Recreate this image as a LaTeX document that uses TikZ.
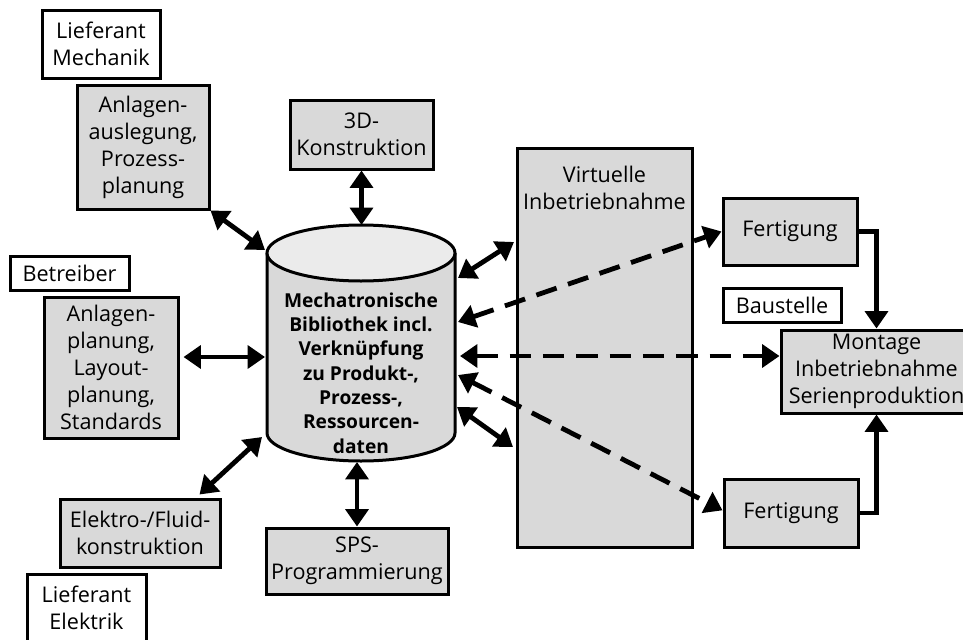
\documentclass[tikz,border=0pt]{standalone}
\usepackage{fontspec}
\setmainfont{Open Sans}
\usetikzlibrary{arrows.meta}
\definecolor{boxgray}{HTML}{D9D9D9}
\definecolor{topgray}{HTML}{EBEBEB}
\begin{document}
\begin{tikzpicture}[x=0.75pt,y=-0.75pt,
  txt/.style={font=\fontsize{16.2}{20.2}\selectfont},
  box/.style={draw,line width=2.25pt,fill=boxgray,align=center,inner sep=0pt,txt},
  tag/.style={draw,line width=2.25pt,fill=white,align=center,inner sep=0pt,txt},
  tipA/.tip={Triangle[length=13pt,width=17pt]},
  biarrow/.style={line width=3.6pt,tipA-tipA},
  dasharrow/.style={biarrow,dash pattern=on 16pt off 9pt},
  onearrow/.style={line width=3.6pt,-tipA}
]
\useasboundingbox (0,0) rectangle (963,639);

% boxes
\node[tag, minimum width=88.5pt, minimum height=51pt] (LM) at (101,44) {Lieferant\\Mechanik};
\node[box, minimum width=99pt, minimum height=93pt] (AA) at (143,147) {Anlagen-\\auslegung,\\Prozess-\\planung};
\node[box, minimum width=107.25pt, minimum height=51.75pt] (K3) at (361.5,134.5) {3D-\\Konstruktion};
\node[tag, minimum width=89.25pt, minimum height=25.5pt] (BT) at (69.5,273) {Betreiber};
\node[box, minimum width=100.5pt, minimum height=105.75pt] (AP) at (111,367.5) {Anlagen-\\planung,\\Layout-\\planung,\\Standards};
\node[box, minimum width=120pt, minimum height=51pt] (EF) at (140,533) {Elektro-/Fluid-\\konstruktion};
\node[tag, minimum width=89.25pt, minimum height=51pt] (LE) at (86.5,608) {Lieferant\\Elektrik};
\node[box, minimum width=136.5pt, minimum height=49.5pt] (SPS) at (357,561) {SPS-\\Programmierung};
\node[box, minimum width=131.25pt, minimum height=299.25pt] (VI) at (604.5,347.5) {};
\node[txt, align=center, anchor=north, inner sep=0pt] (VIt) at (604.5,166) {Virtuelle\\Inbetriebnahme};
\node[box, minimum width=100.5pt, minimum height=50.25pt] (F1) at (790,231.5) {Fertigung};
\node[tag, minimum width=88.5pt, minimum height=25.5pt] (BS) at (782,305) {Baustelle};
\node[box, minimum width=143.25pt, minimum height=62.25pt] (MO) at (876.5,371.5) {Montage\\Inbetriebnahme\\Serienproduktion};
\node[box, minimum width=100.5pt, minimum height=51pt] (F2) at (791,513) {Fertigung};

% cylinder
\path[draw,line width=2.25pt,fill=boxgray] (267,253) -- (267,433)
  arc[start angle=180,end angle=360,x radius=70.5pt,y radius=21pt] -- (455,253);
\draw[line width=2.25pt,fill=topgray] (361,253) ellipse[x radius=70.5pt,y radius=21pt];
\node[minimum width=141pt, minimum height=177pt, inner sep=0pt] (db) at (361,343) {};
\node[align=center, inner sep=0pt, font=\bfseries\fontsize{14.4}{18.2}\selectfont] (dbt) at (361,373)
  {Mechatronische\\Bibliothek incl.\\Verknüpfung\\zu Produkt-,\\Prozess-,\\Ressourcen-\\daten};

% cylinder-side connector ends
\coordinate (cAA) at (265,250);
\coordinate (cTop) at (359,225);
\coordinate (cAP) at (265,357);
\coordinate (cEF) at (262,437);
\coordinate (cBot) at (357,462);
\coordinate (cV1) at (458,278);
\coordinate (cD1) at (458,322);
\coordinate (cD2) at (460,356);
\coordinate (cD3) at (458,375);
\coordinate (cV2) at (457,407);
\coordinate (vA) at (514,242);
\coordinate (vB) at (513,447);

% solid connectors
\draw[biarrow] (AA.south east) -- (cAA);
\draw[biarrow] (K3.south) -- (K3.south |- cTop);
\draw[biarrow] ([xshift=3pt]AP.east |- cAP) -- (cAP);
\draw[biarrow] ([xshift=-16.5pt,yshift=2.25pt]EF.north east) -- (cEF);
\draw[biarrow] (SPS.north) -- (SPS.north |- cBot);
\draw[biarrow] (cV1) -- (vA);
\draw[biarrow] (cV2) -- (vB);

% dashed connectors
\draw[dasharrow] (cD1) -- (F1.west);
\draw[dasharrow] (cD2) -- (MO.west |- cD2);
\draw[dasharrow] (cD3) -- ([yshift=2pt]F2.west);

% to Montage
\draw[onearrow] (F1.east) -| (MO.north);
\draw[onearrow] (F2.east) -| (MO.south);
\end{tikzpicture}
\end{document}
